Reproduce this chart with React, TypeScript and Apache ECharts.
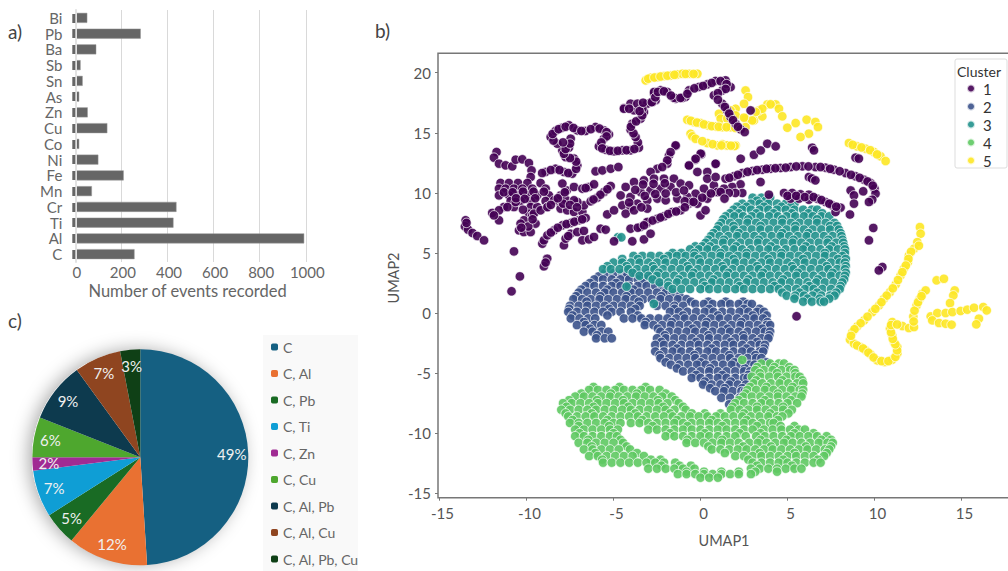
import React, { useEffect, useRef } from "react";
import * as echarts from "echarts";

const elements = ["C", "Al", "Ti", "Cr", "Mn", "Fe", "Ni", "Co", "Cu", "Zn", "As", "Sn", "Sb", "Ba", "Pb", "Bi"];
const events = [257, 993, 426, 439, 72, 210, 100, 17, 139, 54, 17, 32, 23, 91, 284, 52];

const pieNames = ["C", "C, Al", "C, Pb", "C, Ti", "C, Zn", "C, Cu", "C, Al, Pb", "C, Al, Cu", "C, Al, Pb, Cu"];
const pieValues = [49, 12, 5, 7, 2, 6, 9, 7, 3];
const pieColors = ["#156082", "#E97132", "#196B24", "#0F9ED5", "#A02B93", "#4EA72E", "#0D3A4E", "#8F4520", "#0F4016"];

const clusterNames = ["1", "2", "3", "4", "5"];
const clusterColors: Record<string, string> = { "1": "#440154", "2": "#3b528b", "3": "#21918c", "4": "#5ec962", "5": "#fde725" };

const cluster1: number[][] = [
  [-13.5,7.72],[-13.54,7.22],[-13.36,6.94],[-13.1,6.66],[-12.83,6.41],[-12.44,6.05],
  [-11.72,13.4],[-11.87,12.93],[-11.58,12.43],[-11.2,12.29],[-10.82,12.21],[-10.62,12.76],[-10.24,12.79],[-9.86,12.48],[-9.71,11.87],[-9.76,11.32],
  [-11.49,10.82],[-11.01,10.82],[-10.49,10.82],[-9.95,10.82],[-9.19,10.82],
  [-11.58,10.35],[-11.2,10.35],[-10.72,10.35],[-10.24,10.35],[-9.67,10.35],[-8.9,10.35],
  [-11.58,9.79],[-11,9.79],[-10.49,9.79],[-9.95,9.79],[-9.38,9.79],[-8.71,9.79],
  [-10.91,9.32],[-10.34,9.32],[-9.76,9.32],[-8.9,9.32],[-8.23,9.32],
  [-11.3,8.82],[-10.72,8.82],[-9.76,8.82],[-9.38,8.82],[-8.8,8.82],
  [-11.97,8.33],[-11.58,8.55],[-11.1,8.82],[-10.62,9.24],[-11.58,7.72],[-11.87,8.13],
  [-9.86,8.27],[-10.15,7.72],[-10.34,7.44],[-10.43,6.88],[-10.15,6.74],[-9.76,6.74],[-9.48,7.44],[-9.67,8.13],
  [-9.57,8.27],[-9.19,8.55],[-8.8,8.82],[-8.42,9.38],[-8.04,9.79],[-7.69,10.2],[-7.94,10.77],[-7.27,10.49],[-6.79,10.35],[-6.41,10.49],[-6.12,10.71],
  [-8.04,8.69],[-7.66,8.55],[-7.27,8.41],[-6.79,8.41],[-6.7,8.96],[-7.08,9.24],[-6.31,9.3],[-5.93,9.6],[-5.55,10.07],[-5.16,10.57],[-7.75,9.43],[-7.27,9.38],
  [-9.09,5.77],[-9,6.05],[-8.8,6.47],[-8.42,6.88],[-7.94,7.3],[-7.46,7.49],[-6.99,7.72],[-6.6,7.91],
  [-7.85,5.64],[-7.75,6.19],[-7.46,6.6],[-7.08,6.74],[-6.7,6.83],[-6.79,6.05],[-6.41,6.13],[-6.12,6.33],
  [-5.74,7.02],[-5.45,6.94],[-4.97,5.97],[-3.92,5.97],[-3.25,6.13],[-2.87,6.6],[-4.02,7.02],[-3.44,7.16],[-3.06,7.49],[-2.48,7.85],[-2.1,8.05],[-1.62,8.41],[-1.14,8.55],[-.66,9.1],[-.18,9.43],[.39,9.79],[.87,10.07],
  [-8.9,11.74],[-8.33,12.01],[-7.85,11.74],[-7.37,11.6],[-7.08,12.29],[-7.27,12.85],[-7.75,12.98],[-7.94,13.54],[-7.56,13.76],[-7.46,14.51],[-8.23,14.09],[-8.61,14.65],[-8.33,15.15],[-7.94,15.42],[-7.56,15.62],[-7.08,15.2],[-6.6,15.15],[-6.03,15.48],[-5.55,15.2],[-5.26,14.87],[-5.55,14.51],[-5.84,13.87],[-5.45,13.59],[-4.97,13.46],[-4.49,13.54],[-4.02,13.54],[-3.54,13.76],[-3.6,14.2],[-3.73,14.65],[-4.02,15.26],[-3.92,15.76],[-3.44,16.17],[-3.25,16.73],[-3.82,16.87],[-4.4,17.06],[-4.02,17.42],[-3.63,17.42],[-3.06,17.42],[-2.58,17.7],[-2.67,18.25],[-2.29,18.53],[-1.91,18.39],[-1.43,17.84],[-.86,17.98],[-.66,18.53],[-.09,18.81],[.39,19.03],[.87,19.31],
  [-6.03,11.79],[-5.64,11.87],[-5.16,12.01],[-4.72,12.15],
  [-1.43,13.9],[-1.81,13.12],[-1.91,12.43],[-2.48,12.01],[-2.87,11.74],[-.66,12.29],[-.28,12.76],[.05,13.2],[.87,12.43],
  [-4.59,9.79],[-4.3,10.49],[-3.82,10.9],[-3.25,11.04],[-2.67,11.18],[-2.1,11.18],[-1.53,11.18],[-1.14,10.77],[-.66,10.63],[-.28,9.93],[.2,10.35],[.77,10.63],[-4.02,9.66],[-3.44,10.07],[-2.87,10.21],[-2.29,10.35],[-1.72,10.49],[-3.63,9.1],[-3.06,9.38],[-2.48,9.52],[-2,9.38],[-1.33,9.52],[-.76,9.66],[-5.36,8.21],[-4.97,8.55],[-4.49,8.96],[-4.02,8.82],[-3.06,8.69],[-4.3,8.27],[-3.82,8.55],[-.18,11.74],[.39,11.74],[.39,11.18],[.87,11.32],[.97,10.07],[.39,9.52],[-.18,9.1],[-.57,9.24],[0,8.13],[.29,8.55],[-3.06,7.58],
  [-10.72,5.13],[-8.81,4.52],[-9,3.89],[-8.9,4.2],[-10.38,3.05],[-10.86,1.81],[5.52,-.27],
  [1.73,18.8],[1.44,19.36],[1.25,18.52],[.77,18.11],[1.25,17.41],[1.54,16.86],[1.73,16.31],[2.02,15.75],[2.31,15.28],[2.54,15.06],[2.88,16.86],
  [-4.4,17],[-3.34,17],[-2.77,17.55],[-2.67,18.39],[-1.52,17.91],[-1.05,17.91],
  [-1.43,13.95],[-1.72,13.39],[-1.91,12.7],[-2.2,12.15],[.01,13.26],[-.28,12.84],[-.66,12.28],[.87,12.42],[2.31,12.84],[3.07,13.17],[3.46,13.53],[3.84,14.09],[4.32,13.87],
  [6.42,13.76],[6.52,13.54],[8.91,12.93],[9.1,12.85],
  [1.44,11.18],[1.92,11.38],[2.4,11.65],[2.98,11.82],[3.55,11.93],[4.03,12.01],[4.6,12.07],[5.18,12.15],[5.85,12.21],[6.6,12.15],[7.19,12.1],[7.67,11.93],[8.34,11.65],[8.91,11.38],[9.39,11.1],[9.78,10.82],[10,10.35],[10.06,9.93],[9.87,9.43],[9.68,9.24],
  [6.23,11.32],[6.4,11.2],[6.6,11.04],[3.45,10.9],[2.3,10.71],[1.82,10.49],[1.35,10.35],[2.4,9.99],[2,9.99],[1.63,9.99],[1.16,10.07],[1.38,9.52],
  [8.63,10.2],[8.82,9.79],[8.82,9.1],[9.35,10.13],[8.59,8.2],[9.93,7.08],[9.68,6.05],[10.45,3.83],[10.25,3.55],
  [3.93,9.85],[4.8,9.99],[5.27,9.99],[5.75,9.88],[6.23,9.85],[6.71,9.52],[7.19,9.24],[7.57,8.96],[8.05,8.77],[7.76,8.41],[5.18,9.52],[5.66,9.52],[6.23,9.43],
  [-3.3,10.7],[-2.7,10.75],[-2.05,10.8],[-3.75,10.25],[-3.2,9.75],[-2.6,9.9],[-2,9.95],[-1.4,10.05],[-.95,10.2],[-4.1,9.2],[-3.4,8.8],[-.9,9.3],[-11.3,10.05],[-10.8,10.05],[-10.2,10.1],[-9.6,10.1],[-9,10.1],[-10.6,9.55],[-10.1,9.5],[-9.5,9.55],[-7.9,9.1],[-7.5,9],[-7.1,8.8],
  [-13.45,7.5],[-10.2,8.6],[-9.9,7.2],[-10.3,7.1],[-9.65,7.8],[-8.6,9],[-8.2,9.55],[-7.8,10.05],[-6.6,10.4],[-5.75,9.85],[-5.35,10.3],[-6.15,9.45],[-8.6,6.7],[-8.2,7.1],[-7.7,7.4],[-7.25,7.6],[-6.8,7.8],[-7.6,6.4],[-3.6,7.1],[-3.25,7.3],[-2.75,7.7],[-2.3,7.95],[-1.85,8.25],[-1.4,8.45],[-.9,8.8],[-.4,9.25],[.1,9.6],[.6,9.95],
  [-9.1,11.65],[-8.6,11.9],[-8.1,11.9],[-7.6,11.65],[-7.15,12],[-7.15,12.6],[-7.5,12.9],[-7.85,13.25],[-7.75,13.65],[-7.5,14.1],[-7.9,14.2],[-8.45,14.35],[-8.5,14.9],[-8.15,15.3],[-7.75,15.5],[-7.3,15.4],[-6.85,15.15],[-6.3,15.3],[-5.8,15.35],[-5.4,15.05],[-5.4,14.7],[-5.7,14.2],[-5.65,13.7],[-5.2,13.5],[-4.75,13.5],[-4.25,13.55],[-3.8,13.65],[-3.85,14.95],[-4,15.5],[-3.7,15.95],[-3.35,16.45],[-3.5,16.8],[-4.1,17],[-3.3,17.5],[-2.8,17.55],[-2.6,17.95],[-2.45,18.4],[-2.1,18.45],[-1.7,18.1],[-1.15,17.9],[-.75,18.25],[-.35,18.7],[.15,18.9],[.65,19.15],
  [1.15,19.3],[1.5,19.05],[1.45,18.65],[1,18.3],[1,17.75],[1.4,17.15],[1.65,16.6],[1.87,16.05],[2.15,15.5],[1.66,11.25],[2.15,11.5],[2.7,11.75],[3.25,11.9],[3.8,12],[4.3,12.05],[4.9,12.1],[5.5,12.2],[6.2,12.2],[6.9,12.15],[7.45,12],[8,11.8],[8.65,11.5],[9.15,11.25],[9.6,10.95],[9.9,10.6],[5.0,9.75],[5.5,9.75],[6,9.65],[6.5,9.65],[6.95,9.4],[7.4,9.1],[7.8,8.85],
];

const cluster5: number[][] = [
  [-3.15,19.36],[-2.87,19.58],[-2.48,19.63],[-2.1,19.72],[-1.72,19.77],[-1.33,19.86],[-1.05,19.91],[-.66,19.91],[-.18,19.91],
  [-.76,16.08],[-.38,15.89],[.01,15.81],[.43,15.61],[.87,15.53],[1.25,15.47],[1.73,15.47],[2.31,15.33],
  [-.57,14.92],[-.47,14.7],[-.28,14.5],[.39,14.14],[.97,13.95],[1.44,13.95],[2.02,13.95],
  [2.59,18.52],[2.73,17.97],[2.5,17.41],[2.02,17],[1.73,16.86],[1.06,16.58],[1.16,16.17],[1.54,16.17],[2.02,16.44],[2.59,16.17],[2.59,15.47],
  [3.07,16.03],[3.55,16.36],[3.36,16.86],[3.84,17.36],[4.32,17.36],[4.03,17.37],[4.51,17],[4.7,16.37],[3.55,17],[3.17,16.73],[2.97,16.03],[2.5,16.26],
  [4.99,15.42],[5.47,15.81],[6.1,16.09],[6.6,15.9],[6.75,15.48],[6.23,14.93],[5.75,14.65],
  [8.53,14.15],[9,13.87],[9.49,13.68],[9.97,13.4],[10.35,13.04],[10.64,12.65],[1.25,14.04],[1.54,13.95],[1.96,13.9],
  [12.61,7.15],[12.65,6.6],[12.46,5.9],[12.27,5.35],[11.98,4.8],[11.92,4.24],[11.69,3.69],[11.5,3.13],[11.22,2.38],[10.89,1.75],[10.55,1.19],[10.26,.64],[9.87,.08],[9.4,-.61],[9.01,-1.11],[8.73,-1.58],[8.59,-2.22],[8.82,-2.55],[9.2,-2.83],[9.49,-3.11],[9.78,-3.44],[10.16,-3.94],[10.6,-4.08],[11.02,-3.88],[11.31,-3.38],[11.31,-2.83],[11.12,-2.41],[11.02,-1.86],[10.89,-1.3],[11.02,-.75],[11.6,-1.08],[11.98,-1.25],[12.27,-1.17],[12.23,-.28],[12.42,.64],[12.61,1.19],[12.75,1.61],[12.94,1.88],
  [13.57,2.72],[13.99,2.85],[14.61,1.88],[14.53,1.47],[14.34,.83],
  [13.23,-.28],[13.61,0],[14.09,0],[14.47,.08],[14.95,.17],[15.33,.28],[15.72,.44],[16.25,.5],[16.45,.22],[16,-.47],[15.85,-.94],[13.32,-.61],[13.71,-.83],[14.09,-.89],[14.43,-.97],
  [-3,19.5],[-2.65,19.6],[-2.3,19.68],[-1.9,19.75],[-1.5,19.82],[-.85,19.9],[-.4,19.9],
  [-.55,16],[-.2,15.85],[.2,15.7],[.65,15.55],[1.05,15.5],[1.5,15.47],[2,15.4],
  [.1,14.3],[.7,14.05],[1.2,13.95],[1.75,13.93],[8.75,14],[9.25,13.78],[9.75,13.55],[10.15,13.2],
  [12.55,5.6],[12.1,5.1],[11.95,4.5],[11.8,3.95],[11.6,3.4],[11.35,2.75],[11.05,2.05],[10.7,1.45],[10.4,.9],[10.05,.35],[9.6,-.3],[9.2,-.85],[8.85,-1.35],[8.65,-1.9],[9,-2.7],[9.35,-2.95],[9.65,-3.3],[9.95,-3.7],[10.4,-4],[10.8,-4],[11.2,-3.65],[11.3,-3.1],[11.2,-2.6],[11.05,-2.15],[10.95,-1.6],[10.95,-1],[11.3,-.95],[12.25,-.7],[12.3,.2],[12.5,.9],[12.7,1.4],
];

// dense clusters, read row by row: [UMAP2, [UMAP1 values]]
const cluster3Rows: [number, number[]][] = [
  [9.6,[3,3.5,4]],
  [9.35,[3.25,3.75]],
  [9.1,[2.4,2.9,3.4,3.9,4.4,4.9,5.4]],
  [8.85,[2.1,2.65,3.65,4.65,5.2]],
  [8.6,[1.9,2.4,2.9,3.4,3.9,4.4,4.9,5.4,5.9,6.4,6.7]],
  [8.3,[1.7,2.2,3.2,4.2,5.25,6.2,7]],
  [8.05,[1.45,1.95,2.45,2.95,3.45,3.95,4.45,4.95,5.45,5.95,6.45,6.95,7.4]],
  [7.8,[1.3,2.75,4.7,6.7]],
  [7.5,[1.2,1.7,2.2,2.7,3.2,3.7,4.2,4.7,5.2,5.7,6.2,6.7,7.2,7.7]],
  [7.25,[1.05,1.9,3.45,5.45,7.45,7.85]],
  [6.95,[.95,1.45,1.95,2.45,2.95,3.45,3.95,4.45,4.95,5.45,5.95,6.45,6.95,7.45,7.95]],
  [6.65,[.75,2.2,4.7,6.2,8.05]],
  [6.4,[.6,1.1,1.6,2.1,2.6,3.1,3.6,4.1,4.6,5.1,5.6,6.1,6.6,7.1,7.6,8.1]],
  [6.1,[.45,1.35,3.35,5.35,7.35,8.15]],
  [5.85,[.3,.8,1.3,1.8,2.3,2.8,3.3,3.8,4.3,4.8,5.3,5.8,6.3,6.8,7.3,7.8,8.2]],
  [5.55,[-.3,.1,.55,2.05,4.05,6.05,7.55,8.25]],
  [5.3,[-.6,-.1,.4,.9,1.4,1.9,2.4,2.9,3.4,3.9,4.4,4.9,5.4,5.9,6.4,6.9,7.4,7.9,8.3]],
  [5,[-1.6,-1.1,-.35,1.15,2.65,4.65,7.15,8.3]],
  [4.75,[-3.85,-3.35,-2.85,-2.35,-1.85,-1.35,-.85,-.35,.15,.65,1.15,1.65,2.15,2.65,3.15,3.65,4.15,4.65,5.15,5.65,6.15,6.65,7.15,7.65,8.15]],
  [4.5,[-4.5,-3.6,-2.1,-.1,1.9,3.9,5.9,7.9,8.35]],
  [4.2,[-5,-4.5,-4,-3.5,-3,-2.5,-2,-1.5,-1,-.5,0,.5,1,1.5,2,2.5,3,3.5,4,4.5,5,5.5,6,6.5,7,7.5,8,8.3]],
  [3.9,[-5.35,-4.25,-2.75,-.75,1.25,3.25,5.25,7.25,8.35]],
  [3.65,[-5.6,-5.15,-4.65,-4.15,-3.65,-3.15,-2.65,-2.15,-1.65,-1.15,-.65,-.15,.35,.85,1.35,1.85,2.35,2.85,3.35,3.85,4.35,4.85,5.35,5.85,6.35,6.85,7.35,7.85,8.3]],
  [3.35,[-3.9,-2.4,-.4,1.6,3.6,5.6,7.6,8.35]],
  [3.1,[-3.5,-3,-2.5,-2,-1.5,-1,-.5,0,.5,1,1.5,2,2.5,3,3.5,4,4.5,5,5.5,6,6.5,7,7.5,8,8.3]],
  [2.8,[-2.75,-1.25,.75,2.75,4.75,6.75,8.25]],
  [2.55,[-2.35,-1.85,-1.35,-.85,-.35,.15,.65,1.15,1.65,2.15,2.65,3.15,3.65,4.15,4.65,5.15,5.65,6.15,6.65,7.15,7.65,8.15]],
  [2.25,[-1.85,.25,2.25,4.25,6.25,8.05]],
  [2,[-1.6,-1.1,-.6,0,.5,1,1.5,2,2.5,3,3.5,4,4.5,5,5.5,6,6.5,7,7.5,8]],
  [1.7,[4.7,5.7,6.7,7.8]],
  [1.45,[4.95,5.45,5.95,6.45,6.95,7.45,7.7]],
  [1.2,[5.4,6.15,6.85,7.4]],
  [.95,[5.9,6.4,6.9,7.1]],
  [6.3,[-4.75,-4.55]],
  [2.2,[-4.25]],
  [.77,[-2.68]],
];

const cluster2Rows: [number, number[]][] = [
  [3.3,[-5.5,-5,-4.5,-4,-3.5,-3]],
  [3.05,[-5.85,-4.25,-2.85]],
  [2.8,[-6.1,-5.6,-5.1,-4.6,-4.1,-3.6,-3.1,-2.6]],
  [2.5,[-6.35,-4.85,-3.35,-2.4]],
  [2.25,[-6.6,-6.1,-5.6,-5.1,-4.6,-4.1,-3.6,-3.1,-2.6,-2.2]],
  [1.95,[-6.85,-5.35,-3.85,-1.95]],
  [1.7,[-7,-6.5,-6,-5.5,-5,-4.5,-4,-3.5,-3,-2.5,-2,-1.6]],
  [1.4,[-7.15,-5.75,-4.25,-2.25,-1.2]],
  [1.15,[-7.3,-6.8,-6.3,-5.8,-5.3,-4.8,-4.3,-3.8,-3.3,-2.8,-2.3,-1.8,-1.3,-.8]],
  [.95,[-6.55,-3.55,-.55,.45,1.45,2.45]],
  [.75,[-.3,.2,.7,1.2,1.7,2.2,2.7,2.95]],
  [.6,[-7.5,-7,-6.5,-6,-5.5,-5,-4.5,-4,-3.5,-2.5,-2,-1.5,-1]],
  [.35,[-7.55,-5.25,-3.75,-1.5,.5,2.5,3.4]],
  [.1,[-7.6,-7.1,-6.6,-6.1,-5.6,-5.1,-4.6,-4,-1.75,-1.25,-.75,-.25,.25,.75,1.25,1.75,2.25,2.75,3.25,3.65]],
  [-.2,[-7.35,-5.35,-3.6,-1,1,3,3.8]],
  [-.45,[-7.45,-6.95,-6.45,-6.05,-4.4,-3.9,-3.4,-2.9,-2.4,-1.9,-1.4,-.9,-.4,.1,.6,1.1,1.6,2.1,2.6,3.1,3.6]],
  [-.75,[-6.7,-3.15,-1.65,.35,2.35,3.85]],
  [-1,[-7.1,-6.6,-6.1,-5.7,-3.2,-2.7,-2.2,-1.7,-1.2,-.7,-.2,.3,.8,1.3,1.8,2.3,2.8,3.3,3.8,4]],
  [-1.3,[-6.35,-2.45,-.45,1.55,3.55]],
  [-1.55,[-6.7,-6.2,-5.7,-5.3,-2.3,-1.8,-1.3,-.8,-.3,.2,.7,1.2,1.7,2.2,2.7,3.2,3.7,4]],
  [-1.85,[-5.95,-2.05,.45,2.45,3.95]],
  [-2.1,[-6,-5.5,-5.1,-2.5,-2,-1.5,-1,-.5,0,.5,1,1.5,2,2.5,3,3.5,3.9]],
  [-2.4,[-2.25,-.25,1.75,3.25]],
  [-2.65,[-2.6,-2.1,-1.6,-1.1,-.6,-.1,.4,.9,1.4,1.9,2.4,2.9,3.4,3.7]],
  [-2.95,[-1.35,.65,2.65,3.65]],
  [-3.2,[-2.6,-2.1,-1.6,-1.1,-.6,-.1,.4,.9,1.4,1.9,2.4,2.9,3.4,3.6]],
  [-3.5,[-2.35,-.35,1.65,3.15]],
  [-3.75,[-2.3,-1.8,-1.3,-.8,-.3,.2,.7,1.2,1.7,2.2,2.7,3.2,3.5]],
  [-4.1,[3.8,-2,0,1.95]],
  [-4.3,[-1.7,-1.2,-.7,-.2,.3,.8,1.3,1.8,2.3,2.8,3.1]],
  [-4.6,[-1.35,.55,2.55]],
  [-4.85,[-1,-.5,0,.5,1,1.5,2,2.5,2.85]],
  [-5.15,[-.25,1.25,2.75]],
  [-5.4,[-.5,0,.5,1,1.5,2,2.5,2.7]],
  [-5.7,[.25,1.75]],
  [-5.95,[.15,.65,1.15,1.65,2.15,2.6]],
  [-6.25,[.55,1.4,2.4]],
  [-6.5,[.85,1.35,1.85,2.35,2.55]],
  [-7.05,[1.2,1.7,2.25]],
  [-7.6,[1.65,2.1]],
];

const cluster4Rows: [number, number[]][] = [
  [-3.9,[2.4]],
  [-4.2,[3.5,4,4.5,4.8]],
  [-4.5,[3.25,4.25,5.1]],
  [-4.75,[3.15,3.65,4.15,4.65,5.15,5.4]],
  [-5,[3.4,4.4,5.45]],
  [-5.3,[2.95,3.45,3.95,4.45,4.95,5.45,5.7]],
  [-5.6,[3.2,4.7,5.85]],
  [-5.85,[3.05,3.55,4.05,4.55,5.05,5.55,5.9]],
  [-6.15,[-6.15,-4.65,-3.15,2.85,3.8,5.3]],
  [-6.4,[-6.4,-5.9,-5.4,-4.9,-4.4,-3.9,-3.4,-2.9,-2.35,2.7,3.2,3.7,4.2,4.7,5.2,5.7,5.9]],
  [-6.7,[-6.85,-5.15,-3.65,-2,2.6,4.45,5.85]],
  [-6.95,[-7.2,-6.7,-6.2,-5.7,-5.2,-4.7,-4.2,-3.7,-3.2,-2.7,-2.2,-1.65,2.45,2.95,3.45,3.95,4.45,4.95,5.45,5.8]],
  [-7.25,[-7.55,-5.95,-4.45,-2.45,-1.45,2.2,3.7,5.2]],
  [-7.5,[-7.9,-7.4,-6.9,-6.4,-5.9,-5.4,-4.9,-4.4,-3.9,-3.4,-2.9,-2.4,-1.9,-1.25,2,2.5,3,3.5,4,4.5,5,5.55]],
  [-7.8,[-7.7,-6.15,-4.15,-2.15,-1,1.85,3.25,4.75]],
  [-8.05,[-8,-7.5,-7,-6.5,-6,-5.5,-5,-4.5,-4,-3.5,-3,-2.5,-2,-1.5,-.85,1.75,2.25,2.75,3.25,3.75,4.25,4.75,5.25]],
  [-8.35,[-7.75,-6.25,-3.75,-1.75,-.5,.25,1.15,2.5,4,5.05]],
  [-8.6,[-7.6,-7.1,-6.6,-6.1,-5.6,-5.1,-4.6,-4.1,-3.6,-3.1,-2.6,-2.1,-1.6,-1.1,-.6,-.1,.4,.9,1.4,1.9,2.4,2.9,3.4,3.9,4.4,4.7]],
  [-8.9,[-7.35,-5.35,-3.35,-1.35,.65,2.65,4.45]],
  [-9.15,[-7.5,-7,-6.5,-6,-5.5,-5,-4.6,-4,-3.5,-3,-2.5,-2,-1.5,-1,-.5,0,.5,1,1.5,2,2.5,3,3.5,4,4.2]],
  [-9.4,[-7,-5.25,-2.75,-.75,1.25,3.25,4.6,5.4]],
  [-9.7,[-7.2,-6.7,-6.2,-5.7,-5.2,-4.75,-3,-2.5,-2,-1.5,-1,-.5,0,.5,1,1.5,2,2.5,3,3.65,4.15,4.65,5.15,5.65,6]],
  [-10,[-6.95,-5,-1.75,.25,2.25,3.45,5.4,6.5]],
  [-10.25,[-7.2,-6.7,-6.2,-5.7,-5.2,-4.8,-2,-1.5,-1,-.5,0,.5,1,1.5,2,2.6,3.2,3.7,4.2,4.7,5.2,5.7,6.2,6.7,7.25]],
  [-10.55,[-6.45,-4.6,-.75,1.25,3.45,4.95,6.95,7.5]],
  [-10.8,[-7,-6.5,-6,-5.5,-5,-4.45,-.8,-.3,.2,.7,1.2,1.7,2.2,2.8,3.3,3.8,4.3,4.8,5.3,5.8,6.3,6.8,7.3,7.6]],
  [-11.1,[-6.25,-4.25,.45,2.45,4.05,6.05,7.5]],
  [-11.35,[-6.7,-6.2,-5.7,-5.2,-4.7,-4.05,.65,1.15,1.65,2.15,2.65,3.15,3.65,4.15,4.65,5.15,5.65,6.15,6.65,7.15,7.4]],
  [-11.65,[-6.05,-3.65,1.4,3.4,5.4,7.25]],
  [-11.9,[-6.4,-5.9,-5.4,-4.9,-4.4,-3.9,-3.25,2,2.5,3,3.5,4,4.5,5,5.5,6,6.5,7.1]],
  [-12.2,[-5.65,-2.85,-2.3,2.75,4.75,6.75]],
  [-12.45,[-5.6,-5.1,-4.6,-4.1,-3.6,-3.1,-2.6,-2.1,-1.45,3,3.5,4,4.5,5,5.5,6,6.5,6.9]],
  [-12.7,[-2.25,-1.2,-.55,3.25,5.25]],
  [-12.95,[-3,-2.5,-2,-1.5,-1,-.35,2.9,3.4,3.9,4.4,4.9,5.4,5.8]],
  [-13.2,[-.8,.2,1.2,2.2,3.15,4.4]],
  [-13.4,[-1.3,-.8,-.3,.2,.7,1.2,1.7,2.2,2.9]],
  [-13.7,[0,.5,1]],
];

const expand = (rows: [number, number[]][]) => rows.flatMap(([y, xs]) => xs.map((x) => [x, y]));
const FONT = "Lato";
const barColor = "#666666";

const scatter = (name: string, data: number[][]) => ({
  name,
  type: "scatter",
  xAxisIndex: 1,
  yAxisIndex: 1,
  data,
  symbolSize: 9.5,
  itemStyle: { color: clusterColors[name], opacity: 0.9, borderColor: "rgba(255,255,255,0.8)", borderWidth: 1 },
  silent: true,
});

export default function App() {
  const ref = useRef<HTMLDivElement>(null);
  useEffect(() => {
    const chart = echarts.init(ref.current!, null, { renderer: "svg" });
    chart.setOption({
      animation: false,
      backgroundColor: "#ffffff",
      textStyle: { fontFamily: FONT },
      grid: [
        { left: 75.3, top: 10, width: 230.5, height: 252, outerBoundsMode: "none" },
        { left: 439.5, top: 72.7, width: 609, height: 420.6, outerBoundsMode: "none" },
      ],
      xAxis: [
        {
          gridIndex: 0, type: "value", min: 0, max: 1000, interval: 200,
          axisLine: { show: false }, axisTick: { show: false },
          splitLine: { show: true, lineStyle: { color: "#d9d9d9", width: 1 } },
          axisLabel: { color: "#666666", fontSize: 15, margin: 2, fontFamily: FONT, padding: [0, 0, 0, 3], formatter: (v: number) => String(v) },
          name: "Number of events recorded", nameLocation: "center", nameGap: 20, nameMoveOverlap: false,
          nameTextStyle: { color: "#666666", fontSize: 16.5, fontFamily: FONT, padding: [0, 6, 0, 0] },
        },
        {
          gridIndex: 1, type: "value", min: -15, max: 20, interval: 5, offset: 4.4,
          axisLine: { show: false, onZero: false },
          axisTick: { show: true, length: 3, lineStyle: { color: "#777777" } },
          splitLine: { show: false },
          axisLabel: { color: "#555555", fontSize: 15, margin: 8, padding: [0, 0, 0, 6], fontFamily: FONT, showMaxLabel: false },
          name: "UMAP1", nameLocation: "middle", nameGap: 35, nameMoveOverlap: false,
          nameTextStyle: { color: "#555555", fontSize: 14.5, fontFamily: FONT, padding: [0, 40, 0, 0] },
        },
      ],
      yAxis: [
        {
          gridIndex: 0, type: "category", data: elements, z: 5,
          axisLine: { show: true, lineStyle: { color: "#e2e2e2", width: 2 } },
          axisTick: { show: true, alignWithLabel: true, length: 3, lineStyle: { color: "#666666", width: 9 } },
          axisLabel: { color: "#666666", fontSize: 15, lineHeight: 15, margin: 13, interval: 0, fontFamily: FONT },
        },
        {
          gridIndex: 1, type: "value", min: -15, max: 20, interval: 5, offset: 1.5,
          axisLine: { show: false, onZero: false },
          axisTick: { show: true, length: 3, lineStyle: { color: "#777777" } },
          splitLine: { show: false },
          axisLabel: { color: "#555555", fontSize: 15, margin: 7, fontFamily: FONT },
          name: "UMAP2", nameLocation: "middle", nameGap: 37, nameRotate: 90, nameMoveOverlap: false,
          nameTextStyle: { color: "#555555", fontSize: 14.5, fontFamily: FONT, padding: [0, 0, 0, 10] },
        },
      ],
      legend: [
        {
          data: clusterNames, orient: "vertical", left: 966, top: 81, padding: 0,
          itemWidth: 14, itemHeight: 8, itemGap: 3, icon: "circle",
          textStyle: { color: "#333333", fontSize: 15, lineHeight: 14, fontFamily: FONT },
        },
        {
          data: pieNames, orient: "vertical", left: 271, top: 340, padding: 0,
          itemWidth: 7, itemHeight: 7, itemGap: 12.5, itemStyle: { borderWidth: 0 },
          textStyle: { color: "#666666", fontSize: 14, lineHeight: 14, fontFamily: FONT },
        },
      ],
      graphic: [
        { type: "text", left: 8, top: 22, style: { text: "a)", fontSize: 19, fill: "#444444", fontFamily: FONT } },
        { type: "text", left: 375, top: 21, style: { text: "b)", fontSize: 19, fill: "#444444", fontFamily: FONT } },
        { type: "text", left: 8, top: 311, style: { text: "c)", fontSize: 19, fill: "#444444", fontFamily: FONT } },
        { type: "rect", z: -1, shape: { x: 263, y: 335, width: 95, height: 236 }, style: { fill: "#f9f9f9" } },
        { type: "circle", z: -1, shape: { cx: 139, cy: 457, r: 107 }, style: { fill: "#ffffff", shadowBlur: 18, shadowColor: "rgba(0,0,0,0.35)", shadowOffsetX: -3, shadowOffsetY: 0 } },
        { type: "rect", z: -1, shape: { x: 438, y: 53.3, width: 600, height: 444.4 }, style: { fill: "none", stroke: "#777777", lineWidth: 1.5 } },
        { type: "rect", z: 20, shape: { x: 955, y: 59, width: 52, height: 109, r: 2 }, style: { fill: "rgba(255,255,255,0)", stroke: "#dddddd", lineWidth: 1 } },
        { type: "text", z: 20, left: 957, top: 64, style: { text: "Cluster", fontSize: 14, fill: "#333333", fontFamily: FONT } },
      ],
      series: [
        {
          type: "bar", xAxisIndex: 0, yAxisIndex: 0, data: events, barWidth: 10, silent: true,
          itemStyle: { color: barColor, borderColor: "#999999", borderWidth: 0.5 },
        },
        scatter("5", cluster5),
        scatter("2", expand(cluster2Rows)),
        scatter("4", expand(cluster4Rows)),
        scatter("3", expand(cluster3Rows)),
        scatter("1", cluster1),
        {
          type: "pie", center: [140.3, 457.3], radius: [0, 108], silent: true,
          data: pieNames.map((name, i) => ({ name, value: pieValues[i], itemStyle: { color: pieColors[i] } })),
          label: { show: false }, labelLine: { show: false },
        },
        {
          type: "pie", center: [140.3, 457.3], radius: [69, 108], silent: true, avoidLabelOverlap: false,
          data: pieNames.map((name, i) => ({ name, value: pieValues[i], itemStyle: { color: "rgba(0,0,0,0)" } })),
          label: { show: true, position: "inside", formatter: "{c}%", color: "#f0f0f0", fontSize: 15, fontFamily: FONT },
          labelLine: { show: false },
        },
      ],
    });
    return () => chart.dispose();
  }, []);
  return <div ref={ref} style={{ position: "absolute", left: 0, top: 0, width: 1008, height: 571 }} />;
}
